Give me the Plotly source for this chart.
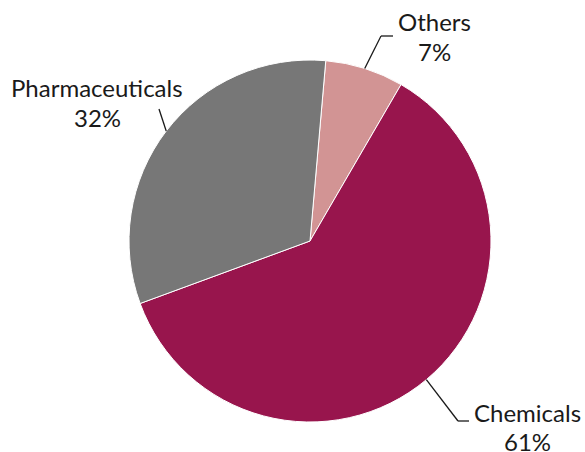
import math
import plotly.graph_objects as go

# Share of output by sector (percent)
sectors = ["Others", "Chemicals", "Pharmaceuticals"]
shares = [7, 61, 32]
colors = ["#D29494", "#98154D", "#777777"]

W, H = 585, 452
CX, CY, R = 310, 241, 181   # pie centre and radius in pixels
ROTATION = 5                # first slice starts 5 deg clockwise from 12 o'clock
LINE_GAP = 29               # pixels between name line and percentage line

fig = go.Figure(go.Pie(
    labels=sectors,
    values=shares,
    sort=False,
    direction="clockwise",
    rotation=ROTATION,
    marker=dict(colors=colors, line=dict(color="white", width=1)),
    textinfo="none",
    hoverinfo="label+percent",
    showlegend=False,
    domain=dict(x=[(CX - R) / W, (CX + R) / W], y=[(H - CY - R) / H, (H - CY + R) / H]),
))


def px(x, y):
    return x / W, 1 - y / H


def edge_point(idx):
    """Point on the rim at the middle of slice idx."""
    total = sum(shares)
    start = ROTATION + 360 * sum(shares[:idx]) / total
    mid = start + 180 * shares[idx] / total
    a = math.radians(mid)
    return CX + R * math.sin(a), CY - R * math.cos(a)


# leader line elbows and label anchors (pixels; anchor = centre of the name line)
leaders = {
    0: [(381, 36), (393, 36)],
    1: [(458, 421), (469, 421)],
    2: [(159, 109)],
}
label_pos = {
    0: (434, 22),
    1: (527, 412),
    2: (97, 88),
}

shapes = []
annotations = []
font = dict(family="Lato", size=24, color="#1a1a1a")
for i, name in enumerate(sectors):
    pts = [edge_point(i)] + leaders[i]
    for (x0, y0), (x1, y1) in zip(pts[:-1], pts[1:]):
        a0, b0 = px(x0, y0)
        a1, b1 = px(x1, y1)
        shapes.append(dict(type="line", xref="paper", yref="paper",
                           x0=a0, y0=b0, x1=a1, y1=b1,
                           line=dict(color="#1a1a1a", width=1.3)))
    lx, ly = label_pos[i]
    for k, txt in enumerate([name, f"{shares[i]}%"]):
        ax_, ay_ = px(lx, ly + k * LINE_GAP)
        annotations.append(dict(
            x=ax_, y=ay_, xref="paper", yref="paper", showarrow=False,
            text=txt, xanchor="center", yanchor="middle", font=font,
        ))

fig.update_layout(
    width=W, height=H,
    margin=dict(l=0, r=0, t=0, b=0),
    paper_bgcolor="white",
    plot_bgcolor="white",
    shapes=shapes,
    annotations=annotations,
)

fig.write_html("out.html")
